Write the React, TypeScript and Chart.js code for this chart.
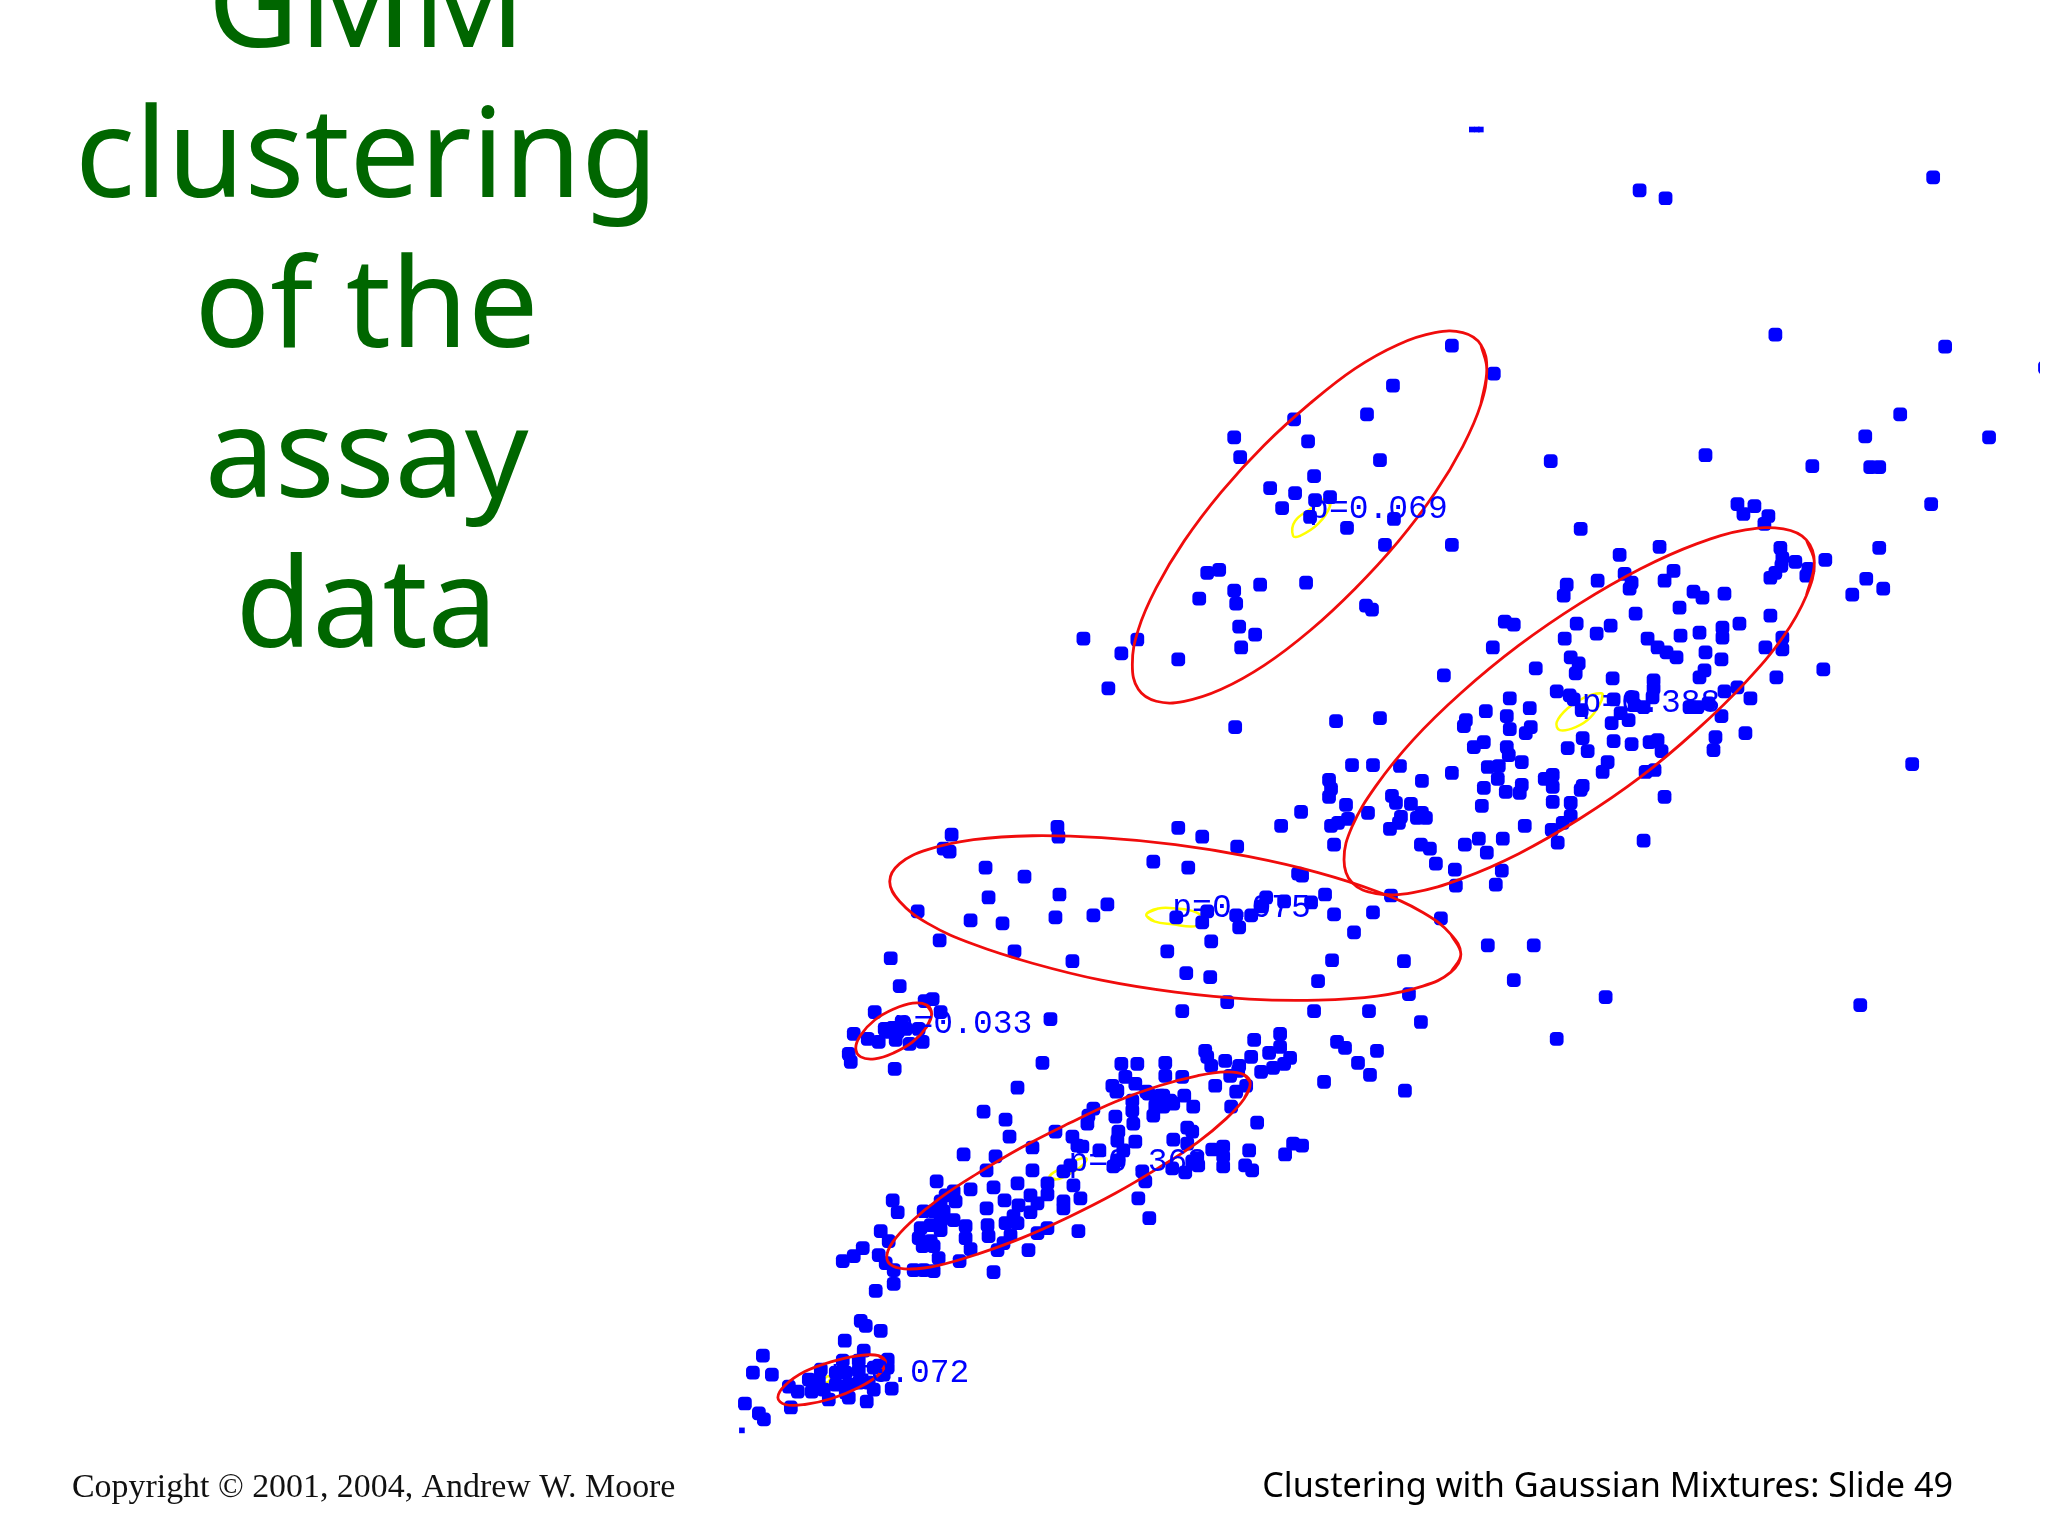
import React, { useEffect, useRef } from "react";
import { Chart, registerables } from "chart.js";

Chart.register(...registerables);

type P = [number, number];

const titleLines = ["GMM", "clustering", "of the", "assay", "data"];
const footerLeft = "Copyright © 2001, 2004, Andrew W. Moore";
const footerRight = "Clustering with Gaussian Mixtures: Slide 49";

const upperPoints: P[] = [
  [1452,344],[1494,372],[1393,384],[1367,413],[1294,418],[1234,436],[1240,456],[1308,440],[1380,459],[1551,460],
  [1314,475],[1270,487],[1295,492],[1330,496],[1315,499],[1282,507],[1310,516],[1394,518],[1347,527],[1581,528],
  [1385,544],[1452,544],[1207,572],[1219,569],[1306,582],[1260,584],[1234,590],[1199,598],[1236,603],[1366,605],
  [1372,609],[1239,626],[1255,634],[1137,639],[1083,638],[1121,653],[1241,647],[1178,659],[1108,688],[1235,727],
  [1336,721],[1380,718],
];
const farPoints: P[] = [
  [1640,188],[1666,196],[1934,175],[1776,333],[1946,345],[2046,366],[1901,413],[1866,435],[1990,436],[1706,454],
  [1813,465],[1871,466],[1880,466],[1932,503],[1913,764],[1606,998],[1861,1006],[1557,1040],[1514,981],
];
const rightPoints: P[] = [
  [1755,505],[1744,513],[1769,515],[1765,523],[1738,503],[1660,546],[1620,554],[1781,547],[1880,547],[1826,559],
  [1796,561],[1783,557],[1809,568],[1807,575],[1782,565],[1776,572],[1771,577],[1625,573],[1674,570],[1665,580],
  [1632,582],[1630,588],[1598,580],[1567,584],[1564,595],[1867,578],[1853,594],[1884,588],[1694,591],[1703,597],
  [1725,593],[1680,607],[1636,613],[1771,615],[1505,621],[1514,624],[1577,623],[1611,625],[1597,633],[1740,623],
  [1723,627],[1723,637],[1700,632],[1681,635],[1565,638],[1648,638],[1658,647],[1667,652],[1677,657],[1783,637],
  [1766,647],[1783,649],[1493,647],[1706,652],[1722,659],[1571,657],[1579,663],[1536,668],[1576,673],[1705,670],
  [1700,677],[1613,678],[1824,669],[1777,677],[1444,675],[1654,680],[1654,688],[1653,697],[1557,691],[1570,695],
  [1574,699],[1614,699],[1633,697],[1510,698],[1725,691],[1738,687],[1751,698],[1530,708],[1582,710],[1486,711],
  [1635,705],[1644,707],[1621,713],[1690,707],[1698,707],[1709,703],[1507,716],[1466,720],[1464,726],[1629,720],
  [1612,723],[1722,716],[1510,729],[1531,727],[1526,733],[1746,733],[1583,738],[1484,742],[1474,747],[1507,747],
  [1614,741],[1632,744],[1658,740],[1650,742],[1716,737],[1568,748],[1588,751],[1662,751],[1714,750],[1509,755],
  [1522,762],[1608,762],[1400,766],[1352,765],[1373,765],[1488,767],[1499,766],[1603,772],[1646,772],[1655,770],
  [1452,773],[1422,781],[1329,780],[1498,779],[1545,779],[1553,775],[1583,786],[1331,789],[1484,788],[1553,787],
  [1522,785],[1520,793],[1506,792],[1581,790],[1329,797],[1392,796],[1396,803],[1411,804],[1346,805],[1665,797],
  [1553,802],[1571,803],[1482,806],[1368,813],[1422,813],[1426,818],[1417,818],[1401,817],[1301,812],[1571,816],
  [1348,819],[1399,823],[1338,823],[1331,826],[1563,823],[1390,829],[1525,826],[1552,830],[1558,843],[1644,841],
  [1479,839],[1503,839],[1421,845],[1430,849],[1334,845],[1465,845],[1487,853],[1436,864],[1455,870],[1502,871],
  [1456,886],[1496,885],[1302,876],[1391,896],[1325,895],[1373,913],[1334,915],[1441,919],[1354,933],[1488,946],
  [1534,946],
];
const middlePoints: P[] = [
  [1281,826],[951,835],[943,849],[949,852],[1057,827],[1058,837],[1178,828],[1202,837],[1237,847],[985,868],
  [1024,877],[1153,862],[1188,868],[1298,874],[988,898],[1059,895],[1107,905],[917,912],[970,921],[1002,924],
  [1055,918],[1093,916],[1176,918],[1207,912],[1202,923],[1236,916],[1251,916],[1261,907],[1266,898],[1284,902],
  [1311,903],[1239,928],[939,941],[1211,942],[1014,952],[1167,952],[890,959],[1072,962],[1332,961],[1404,962],
  [1186,974],[1210,978],[1318,982],[899,987],[1409,995],[1227,1003],[1182,1012],[1314,1012],[1369,1012],[1421,1023],
  [932,1000],[924,1002],[874,1013],[940,1013],[1050,1020],[901,1023],[892,1029],[884,1030],[905,1030],[918,1030],
  [853,1035],[867,1040],[878,1043],[895,1041],[909,1045],[922,1043],[888,1033],[897,1033],[848,1055],[850,1063],
  [894,1070],[1042,1064],[1017,1089],
];
const lowerPoints: P[] = [
  [1280,1035],[1254,1041],[1280,1048],[1269,1054],[1205,1052],[1207,1058],[1290,1059],[1251,1058],[1225,1062],[1284,1065],
  [1239,1067],[1211,1067],[1273,1069],[1261,1073],[1238,1072],[1230,1077],[1337,1043],[1345,1049],[1377,1052],[1358,1064],
  [1370,1076],[1324,1083],[1405,1092],[1215,1087],[1236,1093],[1246,1087],[1182,1078],[1165,1064],[1137,1065],[1121,1065],
  [1165,1077],[1125,1078],[1135,1085],[1112,1087],[1116,1093],[1146,1093],[1184,1097],[1163,1097],[1231,1108],[1193,1108],
  [1148,1095],[1160,1097],[1170,1102],[1155,1107],[1163,1108],[1153,1117],[1173,1105],[1132,1102],[1132,1112],[1133,1125],
  [1115,1118],[1117,1092],[1088,1117],[1093,1110],[1087,1125],[1055,1133],[983,1113],[1005,1121],[1009,1138],[963,1156],
  [1032,1149],[995,1158],[986,1172],[1032,1172],[1072,1138],[1077,1147],[1082,1148],[1118,1133],[1117,1142],[1123,1152],
  [1135,1143],[1099,1152],[1187,1129],[1173,1141],[1187,1145],[1192,1133],[1257,1124],[1293,1145],[1302,1147],[1285,1156],
  [1223,1148],[1212,1151],[1249,1152],[1223,1158],[1223,1168],[1245,1167],[1252,1172],[1197,1160],[1192,1163],[1198,1167],
  [1185,1174],[1172,1170],[1113,1168],[1117,1162],[1070,1167],[1063,1173],[1047,1185],[1047,1196],[1073,1187],[1080,1200],
  [1063,1203],[1063,1210],[1017,1185],[993,1189],[970,1191],[1142,1173],[1145,1183],[1138,1200],[1149,1220],[936,1183],
  [953,1193],[945,1197],[955,1203],[940,1203],[933,1213],[923,1213],[943,1213],[953,1222],[965,1228],[940,1223],
  [930,1227],[920,1230],[940,1232],[918,1240],[930,1243],[922,1248],[933,1248],[892,1202],[897,1214],[880,1233],
  [888,1243],[862,1250],[853,1258],[842,1263],[878,1257],[885,1265],[893,1272],[893,1286],[875,1293],[938,1260],
  [933,1273],[913,1272],[923,1272],[959,1263],[993,1274],[987,1227],[988,1238],[1005,1225],[1017,1225],[1013,1218],
  [986,1210],[1004,1202],[1018,1207],[1030,1197],[1037,1205],[1030,1214],[965,1240],[970,1251],[1010,1237],[1003,1245],
  [997,1252],[1028,1252],[1037,1235],[1047,1230],[1078,1233],
];
const bottomPoints: P[] = [
  [860,1323],[865,1328],[880,1333],[844,1343],[863,1353],[762,1358],[752,1375],[771,1377],[744,1406],[758,1416],
  [763,1422],[790,1410],[788,1389],[797,1394],[811,1394],[808,1382],[820,1372],[818,1382],[823,1392],[828,1402],
  [842,1363],[835,1375],[845,1375],[835,1387],[848,1387],[845,1395],[848,1400],[858,1363],[858,1373],[858,1385],
  [868,1385],[873,1370],[873,1392],[887,1362],[883,1377],[891,1391],[866,1404],[878,1368],[887,1370],
];
const smallPoints: P[] = [[1472,127],[1477,127],[1481,127],[741,1433]];

const ringTop: P[] = [
  [1487,368],[1481,403],[1463,445],[1435,492],[1398,541],[1355,588],[1310,630],[1264,665],[1221,689],[1184,701],[1156,701],[1138,689],
  [1132,664],[1138,629],[1156,587],[1184,540],[1221,491],[1264,444],[1310,402],[1355,367],[1398,343],[1435,331],[1463,331],[1481,343],[1487,368],
];
const ringRight: P[] = [
  [1815,562],[1807,595],[1784,636],[1746,682],[1697,730],[1641,777],[1580,819],[1519,854],[1462,879],[1413,893],[1376,894],[1352,883],
  [1344,860],[1352,827],[1376,786],[1413,740],[1462,692],[1519,645],[1580,603],[1641,568],[1697,543],[1746,529],[1784,528],[1807,539],[1815,562],
];
const ringMiddle: P[] = [
  [1461,955],[1451,973],[1423,987],[1377,997],[1318,1001],[1249,1000],[1175,993],[1101,981],[1032,964],[973,945],[927,924],[899,902],
  [889,882],[899,864],[927,850],[973,840],[1032,836],[1101,838],[1175,845],[1249,857],[1318,873],[1377,892],[1423,913],[1451,935],[1461,955],
];
const ringSmall: P[] = [
  [931,1015],[926,1028],[912,1043],[893,1054],[874,1060],[860,1058],[855,1049],[860,1036],[874,1021],[893,1010],[912,1004],[926,1006],[931,1015],
];
const ringLower: P[] = [
  [1250,1085],[1244,1100],[1226,1120],[1197,1144],[1159,1169],[1115,1195],[1068,1219],[1021,1240],[977,1256],[939,1267],[910,1271],[892,1268],
  [886,1259],[892,1244],[910,1224],[939,1200],[977,1175],[1021,1149],[1068,1125],[1115,1103],[1159,1087],[1197,1077],[1226,1073],[1244,1076],[1250,1085],
];
const ringBottom: P[] = [
  [885,1365],[878,1377],[858,1390],[831,1401],[804,1407],[784,1407],[777,1400],[784,1388],[804,1374],[831,1364],[858,1358],[878,1358],[885,1365],
];

const coreTop: P[] = [[1327,497],[1312,507],[1295,520],[1293,535],[1300,535],[1318,523],[1330,505],[1327,497]];
const coreRight: P[] = [[1602,693],[1585,697],[1568,708],[1557,722],[1560,730],[1576,727],[1591,717],[1602,700],[1602,693]];
const coreMiddle: P[] = [[1146,915],[1158,909],[1175,909],[1196,913],[1205,922],[1194,927],[1173,925],[1154,922],[1146,915]];
const coreLower: P[] = [[1049,1178],[1060,1170],[1075,1162],[1086,1160],[1082,1167],[1070,1175],[1056,1181],[1049,1178]];
const coreBottom: P[] = [[820,1384],[826,1379],[830,1380],[826,1385],[820,1384]];

const mixtureLabels: { text: string; at: P }[] = [
  { text: "p=0.069", at: [1309, 517] },
  { text: "p=0.388", at: [1582, 712] },
  { text: "p=0.075", at: [1172, 918] },
  { text: "p=0.033", at: [893, 1034] },
  { text: "p=0.363", at: [1068, 1173] },
  { text: "p=0.072", at: [830, 1384] },
];

const toXY = (a: P[]) => a.map(([x, y]) => ({ x, y }));
// Repeats one outline point at each end so the spline closes without a kink.
const closeLoop = (a: P[]): P[] => [a[a.length - 2], ...a, a[1]];
const rings = [ringTop, ringRight, ringMiddle, ringSmall, ringLower, ringBottom];
const cores = [coreTop, coreRight, coreMiddle, coreLower, coreBottom];
const clouds = [upperPoints, farPoints, rightPoints, middlePoints, lowerPoints, bottomPoints];

const textPlugin = {
  id: "slideText",
  afterDatasetsDraw(chart: any) {
    const { ctx, scales } = chart;
    const sx = scales.x;
    const sy = scales.y;
    ctx.save();
    ctx.textBaseline = "alphabetic";
    ctx.textAlign = "left";
    ctx.fillStyle = "#0000ff";
    ctx.font = '33px "Liberation Mono"';
    for (const l of mixtureLabels) ctx.fillText(l.text, sx.getPixelForValue(l.at[0]), sy.getPixelForValue(l.at[1]));
    ctx.textAlign = "center";
    ctx.fillStyle = "#006600";
    ctx.font = '125px "Noto Sans"';
    titleLines.forEach((t, i) => ctx.fillText(t, 366.5, 47 + i * 150));
    ctx.textAlign = "left";
    ctx.fillStyle = "#111111";
    ctx.font = '33.9px "Liberation Serif"';
    ctx.fillText(footerLeft, 72, 1497);
    ctx.fillStyle = "#000000";
    ctx.font = '34.2px "Noto Sans"';
    ctx.textAlign = "right";
    ctx.fillText(footerRight, 1953, 1497);
    ctx.restore();
  },
};

export default function App() {
  const ref = useRef<HTMLCanvasElement>(null);
  useEffect(() => {
    document.body.style.margin = "0";
    document.body.style.background = "#ffffff";
    const datasets: any[] = [];
    cores.forEach((c, i) =>
      datasets.push({ label: `core ${i}`, data: toXY(closeLoop(c)), showLine: true, tension: 0.4, borderColor: "#ffff00", borderWidth: 2.5, pointRadius: 0, order: 3 })
    );
    clouds.forEach((c, i) =>
      datasets.push({ label: `cloud ${i}`, data: toXY(c), showLine: false, pointStyle: "rectRounded", pointRadius: 8, pointBorderWidth: 0, pointBackgroundColor: "#0000ff", order: 2 })
    );
    datasets.push({ label: "fragments", data: toXY(smallPoints), showLine: false, pointStyle: "rect", pointRadius: 4, pointBorderWidth: 0, pointBackgroundColor: "#0000ff", order: 2 });
    rings.forEach((c, i) =>
      datasets.push({ label: `ring ${i}`, data: toXY(closeLoop(c)), showLine: true, tension: 0.4, borderColor: "#f00c0c", borderWidth: 2.8, pointRadius: 0, order: 1 })
    );
    const chart = new Chart(ref.current!, {
      type: "scatter",
      data: { datasets },
      options: {
        animation: false,
        responsive: false,
        devicePixelRatio: 1,
        layout: { padding: 0 },
        plugins: { legend: { display: false }, title: { display: false }, tooltip: { enabled: false } },
        scales: {
          x: { type: "linear", display: false, min: 6, max: 2041 },
          y: { type: "linear", display: false, min: 5, max: 1531, reverse: true },
        },
      },
      plugins: [textPlugin],
    } as any);
    return () => chart.destroy();
  }, []);
  return (
    <canvas
      ref={ref}
      width={2048}
      height={1536}
      style={{ position: "absolute", left: 0, top: 0, width: 2048, height: 1536, display: "block" }}
    />
  );
}
